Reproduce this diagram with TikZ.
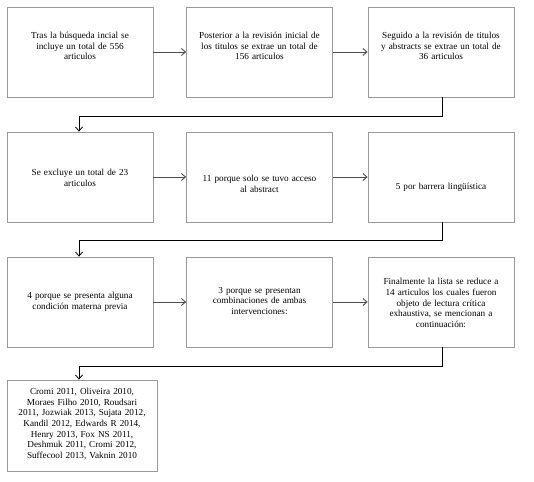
\documentclass[tikz,border=0pt]{standalone}
\usepackage{fontspec}
\setmainfont{Liberation Serif}
\usetikzlibrary{arrows.meta}
\begin{document}
\begin{tikzpicture}[x=1pt,y=-1pt,
  box/.style={draw=black!40, line width=0.8pt, minimum width=146pt, minimum height=90pt, inner sep=0pt},
  txt/.style={align=center, font=\fontsize{9.2}{10.6}\selectfont, text width=140pt, inner sep=0pt},
  conn/.style={draw=black!70, line width=0.9pt, -{Straight Barb[length=4pt,width=7pt]}},
  elbow/.style={draw=black, line width=0.8pt, -{Straight Barb[length=4pt,width=7pt]}}]
\useasboundingbox (0,0) rectangle (534,481);
% row 1
\node[box] (b1) at (80,52) {};
\node[box] (b2) at (259.5,52) {};
\node[box] (b3) at (441,52) {};
\node[txt] (t1) at (80,46) {Tras la búsqueda incial se\\incluye un total de 556\\articulos};
\node[txt] (t2) at (259.5,46) {Posterior a la revisión inicial de\\los titulos se extrae un total de\\156 articulos};
\node[txt] (t3) at (441,46) {Seguido a la revisión de titulos\\y abstracts se extrae un total de\\36 articulos};
% row 2
\node[box] (b4) at (80,177) {};
\node[box] (b5) at (259.5,177) {};
\node[box] (b6) at (441,177) {};
\node[txt] (t4) at (80,178) {Se excluye un total de 23\\articulos};
\node[txt] (t5) at (259.5,184) {11 porque solo se tuvo acceso\\al abstract};
\node[txt] (t6) at (441,187) {5 por barrera lingüística};
% row 3
\node[box] (b7) at (80,302) {};
\node[box] (b8) at (259.5,302) {};
\node[box] (b9) at (441,302) {};
\node[txt] (t7) at (80,302) {4 porque se presenta alguna\\condición materna previa};
\node[txt] (t8) at (259.5,301) {3 porque se presentan\\combinaciones de ambas\\intervenciones:};
\node[txt] (t9) at (441,303) {Finalmente la lista se reduce a\\14 articulos los cuales fueron\\objeto de lectura crítica\\exhaustiva, se mencionan a\\continuación:};
% final
\node[box, minimum width=150pt, minimum height=91pt] (b10) at (82,425.5) {};
\node[txt] (t10) at (82,424) {Cromi 2011, Oliveira 2010,\\Moraes Filho 2010, Roudsari\\2011, Jozwiak 2013, Sujata 2012,\\Kandil 2012, Edwards R 2014,\\Henry 2013, Fox NS 2011,\\Deshmuk 2011, Cromi 2012,\\Suffecool 2013, Vaknin 2010};
% horizontal arrows
\draw[conn] (b1) -- (b2);
\draw[conn] (b2) -- (b3);
\draw[conn] (b4) -- (b5);
\draw[conn] (b5) -- (b6);
\draw[conn] (b7) -- (b8);
\draw[conn] (b8) -- (b9);
% elbow connectors
\coordinate (e1) at (442,116);
\coordinate (e2) at (79,116);
\draw[elbow] (b3.south -| e1) -- (e1) -- (e2) -- (e2 |- b4.north);
\coordinate (e3) at (442,240);
\coordinate (e4) at (79,240);
\draw[elbow] (b6.south -| e3) -- (e3) -- (e4) -- (e4 |- b7.north);
\coordinate (e5) at (442,366);
\coordinate (e6) at (79,366);
\draw[elbow] (b9.south -| e5) -- (e5) -- (e6) -- (e6 |- b10.north);
\end{tikzpicture}
\end{document}
